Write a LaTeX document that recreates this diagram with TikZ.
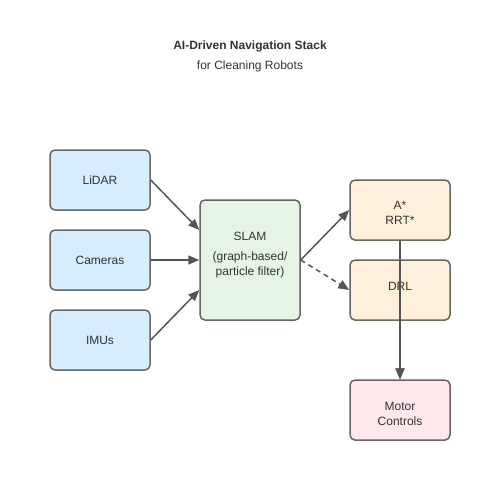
\documentclass[tikz,border=0pt]{standalone}
\usepackage{fontspec}
\setmainfont{Liberation Sans}
\usetikzlibrary{arrows.meta}
\definecolor{edgegray}{HTML}{555555}
\definecolor{boxborder}{HTML}{666666}
\definecolor{bluefill}{HTML}{D6ECFF}
\definecolor{greenfill}{HTML}{E6F4E6}
\definecolor{orangefill}{HTML}{FFF0DC}
\definecolor{pinkfill}{HTML}{FFE8EC}
\definecolor{textgray}{HTML}{333333}
\tikzset{
  box/.style={draw=boxborder, line width=1.5pt, rounded corners=5pt, minimum width=100pt, minimum height=60pt, inner sep=0pt, align=center, font=\fontsize{12}{15}\selectfont, text=textgray},
  txt/.style={align=center, font=\fontsize{12}{15}\selectfont, text=textgray, inner sep=0pt},
  conn/.style={draw=edgegray, line width=1.5pt, -{Triangle[length=11pt,width=9pt]}},
  dconn/.style={conn, dash pattern=on 5pt off 4pt},
}
\begin{document}
\begin{tikzpicture}[x=1pt,y=-1pt]
\useasboundingbox (0,0) rectangle (500,500);
\node[font=\fontsize{12}{14}\selectfont\bfseries, text=textgray] (title) at (250,46) {AI-Driven Navigation Stack};
\node[font=\fontsize{12}{14}\selectfont, text=textgray] (subtitle) at (250,66) {for Cleaning Robots};
\node[box, fill=bluefill] (lidar) at (100,180) {LiDAR};
\node[box, fill=bluefill] (cams) at (100,260) {Cameras};
\node[box, fill=bluefill] (imu) at (100,340) {IMUs};
\node[box, fill=greenfill, minimum height=120pt] (slam) at (250,260) {};
\node[txt] (slamtxt) at (250,255) {SLAM\\[5pt](graph-based/\\particle filter)};
\node[box, fill=orangefill] (astar) at (400,210) {};
\node[txt] (astartxt) at (400,213) {A*\\RRT*};
\node[box, fill=orangefill] (drl) at (400,290) {};
\node[txt] (drltxt) at (400,286) {DRL};
\node[box, fill=pinkfill] (motor) at (400,410) {};
\node[txt] (motortxt) at (400,414) {Motor\\Controls};
\draw[conn] (lidar.east) -- ([yshift=30pt]slam.west);
\draw[conn] (cams.east) -- (slam.west);
\draw[conn] (imu.east) -- ([yshift=-30pt]slam.west);
\draw[conn] (slam.east) -- (astar.west);
\draw[dconn] (slam.east) -- (drl.west);
\draw[conn] (astar.south) -- (motor.north);
\draw[dconn] (drl.south) -- (motor.north);
\end{tikzpicture}
\end{document}
